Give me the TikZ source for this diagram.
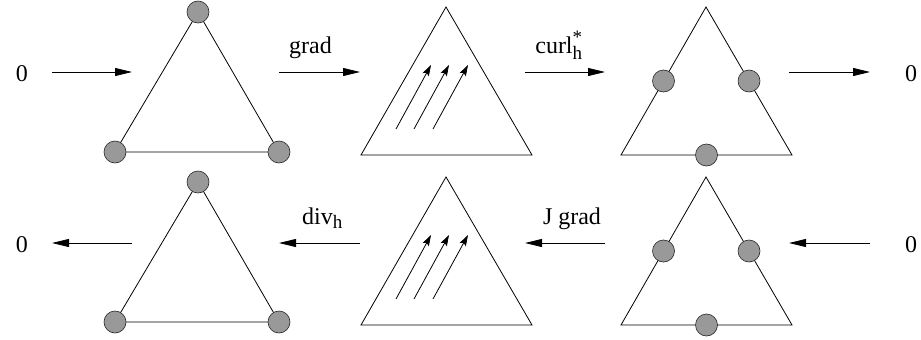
\documentclass[tikz,border=0pt]{standalone}
\usepackage{fontspec}
\setmainfont{Liberation Serif}
\usetikzlibrary{arrows.meta,calc}

\newcommand{\hsub}{\mbox{\fontsize{19}{20}\selectfont h}}

\begin{document}
\begin{tikzpicture}[x=1pt, y=-1pt, line width=0.8pt,
  font=\fontsize{24}{28}\selectfont,
  dof/.style={circle, draw=black!85, line width=0.6pt, fill=black!40, minimum size=22pt, inner sep=0pt},
  a/.style={-{Triangle[length=17pt, width=8pt]}},
  fa/.style={-{Stealth[length=11pt, width=7pt, inset=2pt]}},
  lbl/.style={anchor=base, yshift=19pt}]
  \useasboundingbox (0,0) rectangle (921,340);

  % the three elements, once per row
  \foreach \r/\dy in {1/0, 2/170} {
    % vertex dofs
    \coordinate (p\r-a) at (198, 12+\dy);
    \coordinate (p\r-b) at (115, 152+\dy);
    \coordinate (p\r-c) at (279, 152+\dy);
    \draw (p\r-a) -- (p\r-b) -- (p\r-c) -- cycle;
    \foreach \v in {a,b,c} \node[dof] (p\r-\v-dof) at (p\r-\v) {};
    % constant vector field
    \coordinate (g\r-a) at (446, 7+\dy);
    \coordinate (g\r-b) at (361, 155+\dy);
    \coordinate (g\r-c) at (532, 155+\dy);
    \draw (g\r-a) -- (g\r-b) -- (g\r-c) -- cycle;
    \foreach \s in {0,18,37} \draw[fa] (396+\s, 129+\dy) -- (431+\s, 65+\dy);
    % edge dofs
    \coordinate (c\r-a) at (706, 7+\dy);
    \coordinate (c\r-b) at (621, 155+\dy);
    \coordinate (c\r-c) at (792, 155+\dy);
    \draw (c\r-a) -- (c\r-b) -- (c\r-c) -- cycle;
    \node[dof] (c\r-ab) at ($(c\r-a)!.5!(c\r-b)$) {};
    \node[dof] (c\r-ac) at ($(c\r-a)!.5!(c\r-c)$) {};
    \node[dof] (c\r-bc) at ($(c\r-b)!.5!(c\r-c)$) {};
  }

  \node (zl1) at (22,74) {0};
  \node (zr1) at (911,74) {0};
  \node (zl2) at (22,245) {0};
  \node (zr2) at (911,245) {0};

  % arrow ends
  \foreach \i/\xa/\xb in {1/52/132, 2/279/360, 3/525/605, 4/789/870} {
    \coordinate (r1s\i) at (\xa,72);  \coordinate (r1e\i) at (\xb,72);
    \coordinate (r2s\i) at (\xb,243); \coordinate (r2e\i) at (\xa,243);
  }

  \draw[a] (r1s1) -- (r1e1);
  \draw[a] (r1s2) -- node[lbl, xshift=-9pt] {grad} (r1e2);
  \draw[a] (r1s3) -- node[lbl, xshift=-6pt] {curl$^{\mbox{\fontsize{19}{20}\selectfont *}}_{\hsub}$} (r1e3);
  \draw[a] (r1s4) -- (r1e4);

  \draw[a] (r2s1) -- (r2e1);
  \draw[a] (r2s2) -- node[lbl, xshift=3pt] {div$_{\hsub}$} (r2e2);
  \draw[a] (r2s3) -- node[lbl, xshift=7pt] {J grad} (r2e3);
  \draw[a] (r2s4) -- (r2e4);
\end{tikzpicture}
\end{document}
